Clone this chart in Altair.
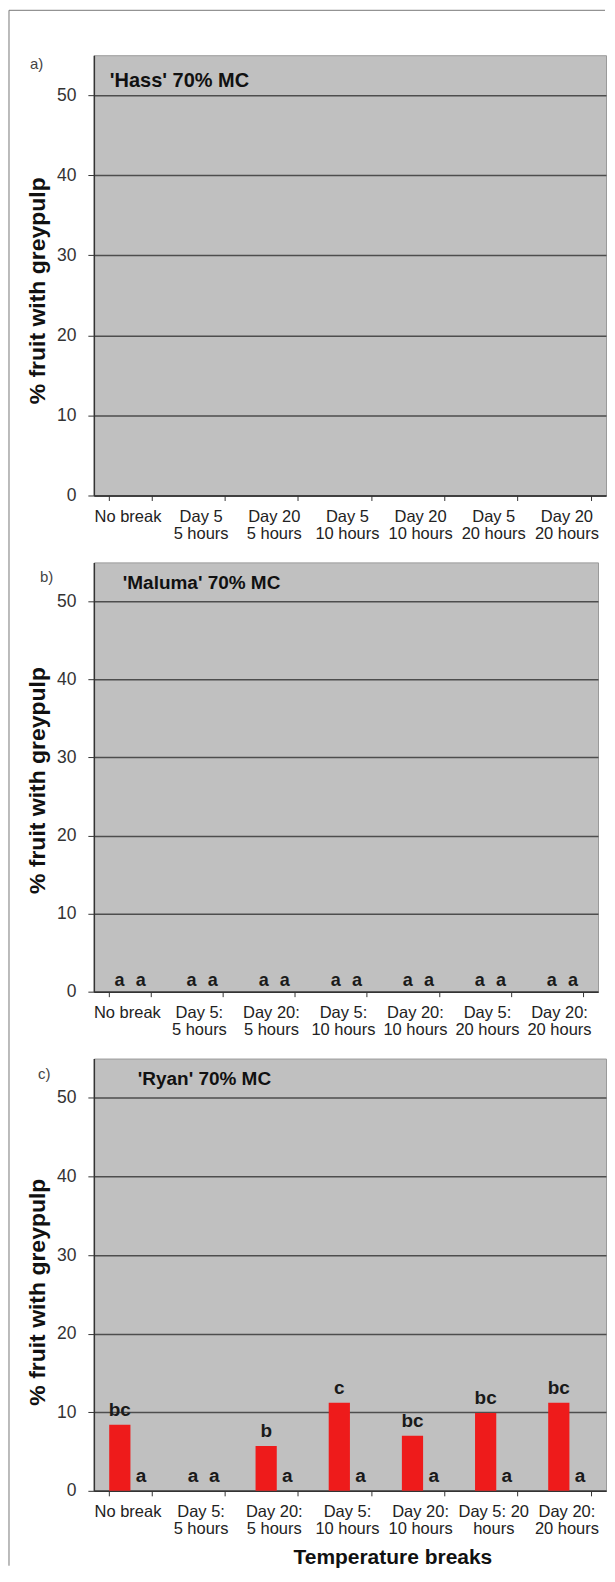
import altair as alt
import pandas as pd

FONT = "Liberation Sans"

# ---------------- data ----------------
series_names = ["S1", "S2"]

cats_hass = ["No break", "Day 5|5 hours", "Day 20|5 hours", "Day 5|10 hours",
             "Day 20|10 hours", "Day 5|20 hours", "Day 20|20 hours"]
cats_maluma = ["No break", "Day 5:|5 hours", "Day 20:|5 hours", "Day 5:|10 hours",
               "Day 20:|10 hours", "Day 5:|20 hours", "Day 20:|20 hours"]
cats_ryan = ["No break", "Day 5:|5 hours", "Day 20:|5 hours", "Day 5:|10 hours",
             "Day 20:|10 hours", "Day 5: 20|hours", "Day 20:|20 hours"]

hass_s1 = [0, 0, 0, 0, 0, 0, 0]
hass_s2 = [0, 0, 0, 0, 0, 0, 0]
hass_l1 = ["", "", "", "", "", "", ""]
hass_l2 = ["", "", "", "", "", "", ""]

maluma_s1 = [0, 0, 0, 0, 0, 0, 0]
maluma_s2 = [0, 0, 0, 0, 0, 0, 0]
maluma_l1 = ["a", "a", "a", "a", "a", "a", "a"]
maluma_l2 = ["a", "a", "a", "a", "a", "a", "a"]

ryan_s1 = [8.4, 0.0, 5.7, 11.2, 7.0, 9.9, 11.2]
ryan_s2 = [0, 0, 0, 0, 0, 0, 0]
ryan_l1 = ["bc", "a", "b", "c", "bc", "bc", "bc"]
ryan_l2 = ["a", "a", "a", "a", "a", "a", "a"]

Y_TICKS = [0, 10, 20, 30, 40, 50]


def make_df(cats, s1, s2, l1, l2):
    rows = []
    for c, v1, v2, t1, t2 in zip(cats, s1, s2, l1, l2):
        rows.append({"cat": c, "series": series_names[0], "value": v1, "label": t1})
        rows.append({"cat": c, "series": series_names[1], "value": v2, "label": t2})
    return pd.DataFrame(rows)


one = pd.DataFrame({"k": [0]})


def panel(cats, s1, s2, l1, l2, title, letter, width, height,
          label_size, label_dy, title_size, title_x, title_y,
          letter_x, letter_y, ytitle_off, xtitle=None, frame=False):
    df = make_df(cats, s1, s2, l1, l2)
    x_axis_kw = dict(
        labelExpr="split(datum.label, '|')",
        tickBand="extent",
        labelAngle=0,
        labelFont=FONT,
        labelFontSize=16.5,
        labelLineHeight=17,
        labelPadding=8,
        labelOffset=-3,
        labelColor="#222222",
        tickSize=5,
        tickColor="#333333",
        domainColor="#333333",
        domainWidth=1.5,
        grid=False,
    )
    if xtitle:
        x_axis_kw.update(
            title=xtitle, titleFont=FONT, titleFontSize=21, titleFontWeight="bold",
            titleColor="#111111", titleX=299, titleY=67, titleBaseline="middle",
            titleAlign="center",
        )
    else:
        x_axis_kw.update(title=None)

    x = alt.X("cat:N", sort=cats,
              scale=alt.Scale(paddingInner=0.42, paddingOuter=0.21),
              axis=alt.Axis(**x_axis_kw))
    xo = alt.XOffset("series:N", sort=series_names)
    y = alt.Y("value:Q",
              scale=alt.Scale(domain=[0, 55], nice=False),
              axis=alt.Axis(
                  values=Y_TICKS,
                  title="% fruit with greypulp",
                  titleFont=FONT, titleFontSize=23, titleFontWeight="bold",
                  titleColor="#111111",
                  titleX=-56, titleY=height / 2 + ytitle_off,
                  titleAngle=270, titleBaseline="middle", titleAlign="center",
                  labelFont=FONT, labelFontSize=17.5, labelColor="#333333",
                  labelPadding=12, tickSize=6, tickColor="#333333",
                  domainColor="#333333", domainWidth=1.5,
                  grid=True, gridColor="#4d4d4d", gridWidth=1.5,
              ))

    bars = alt.Chart(df).mark_bar(color="#ee1b1b").encode(x=x, xOffset=xo, y=y)
    labels = alt.Chart(df).mark_text(
        font=FONT, fontWeight="bold", fontSize=label_size, baseline="middle",
        dy=label_dy, color="#1a1a1a",
    ).encode(x=x, xOffset=xo, y=y, text="label:N")

    ttl = alt.Chart(one).mark_text(
        font=FONT, fontWeight="bold", fontSize=title_size, align="left",
        baseline="middle", color="#111111",
    ).encode(x=alt.value(title_x), y=alt.value(title_y), text=alt.value(title))

    let = alt.Chart(one).mark_text(
        font=FONT, fontSize=15, align="left", baseline="middle", color="#444444",
    ).encode(x=alt.value(letter_x), y=alt.value(letter_y), text=alt.value(letter))

    layers = [bars, labels, ttl, let]
    if frame:
        top = alt.Chart(one).mark_rule(color="#777777", strokeWidth=1).encode(
            x=alt.value(-85), x2=alt.value(512), y=alt.value(-45))
        left = alt.Chart(one).mark_rule(color="#777777", strokeWidth=1).encode(
            x=alt.value(-85), y=alt.value(-45), y2=alt.value(1513))
        layers += [top, left]
    return alt.layer(*layers).properties(width=width, height=height)


pa = panel(cats_hass, hass_s1, hass_s2, hass_l1, hass_l2, "'Hass' 70%  MC", "a)",
           513, 441, 18, -15, 20, 16, 26, -64, 9, 15, frame=True)
pb = panel(cats_maluma, maluma_s1, maluma_s2, maluma_l1, maluma_l2, "'Maluma' 70% MC", "b)",
           505, 430, 18, -11, 19, 29, 21, -54, 15, 3)
pc = panel(cats_ryan, ryan_s1, ryan_s2, ryan_l1, ryan_l2, "'Ryan' 70% MC", "c)",
           513, 433, 19, -15, 19, 44, 20, -56, 15, 17, xtitle="Temperature breaks")

chart = alt.vconcat(pa, pb, pc, spacing=67, bounds="flush").resolve_scale(
    x="independent", y="independent"
).properties(padding=0, background="white").configure_view(
    fill="#c0c0c0", stroke="#9a9a9a", strokeWidth=1
)

chart.save("out.html", embed_options={"renderer": "svg", "actions": False})
